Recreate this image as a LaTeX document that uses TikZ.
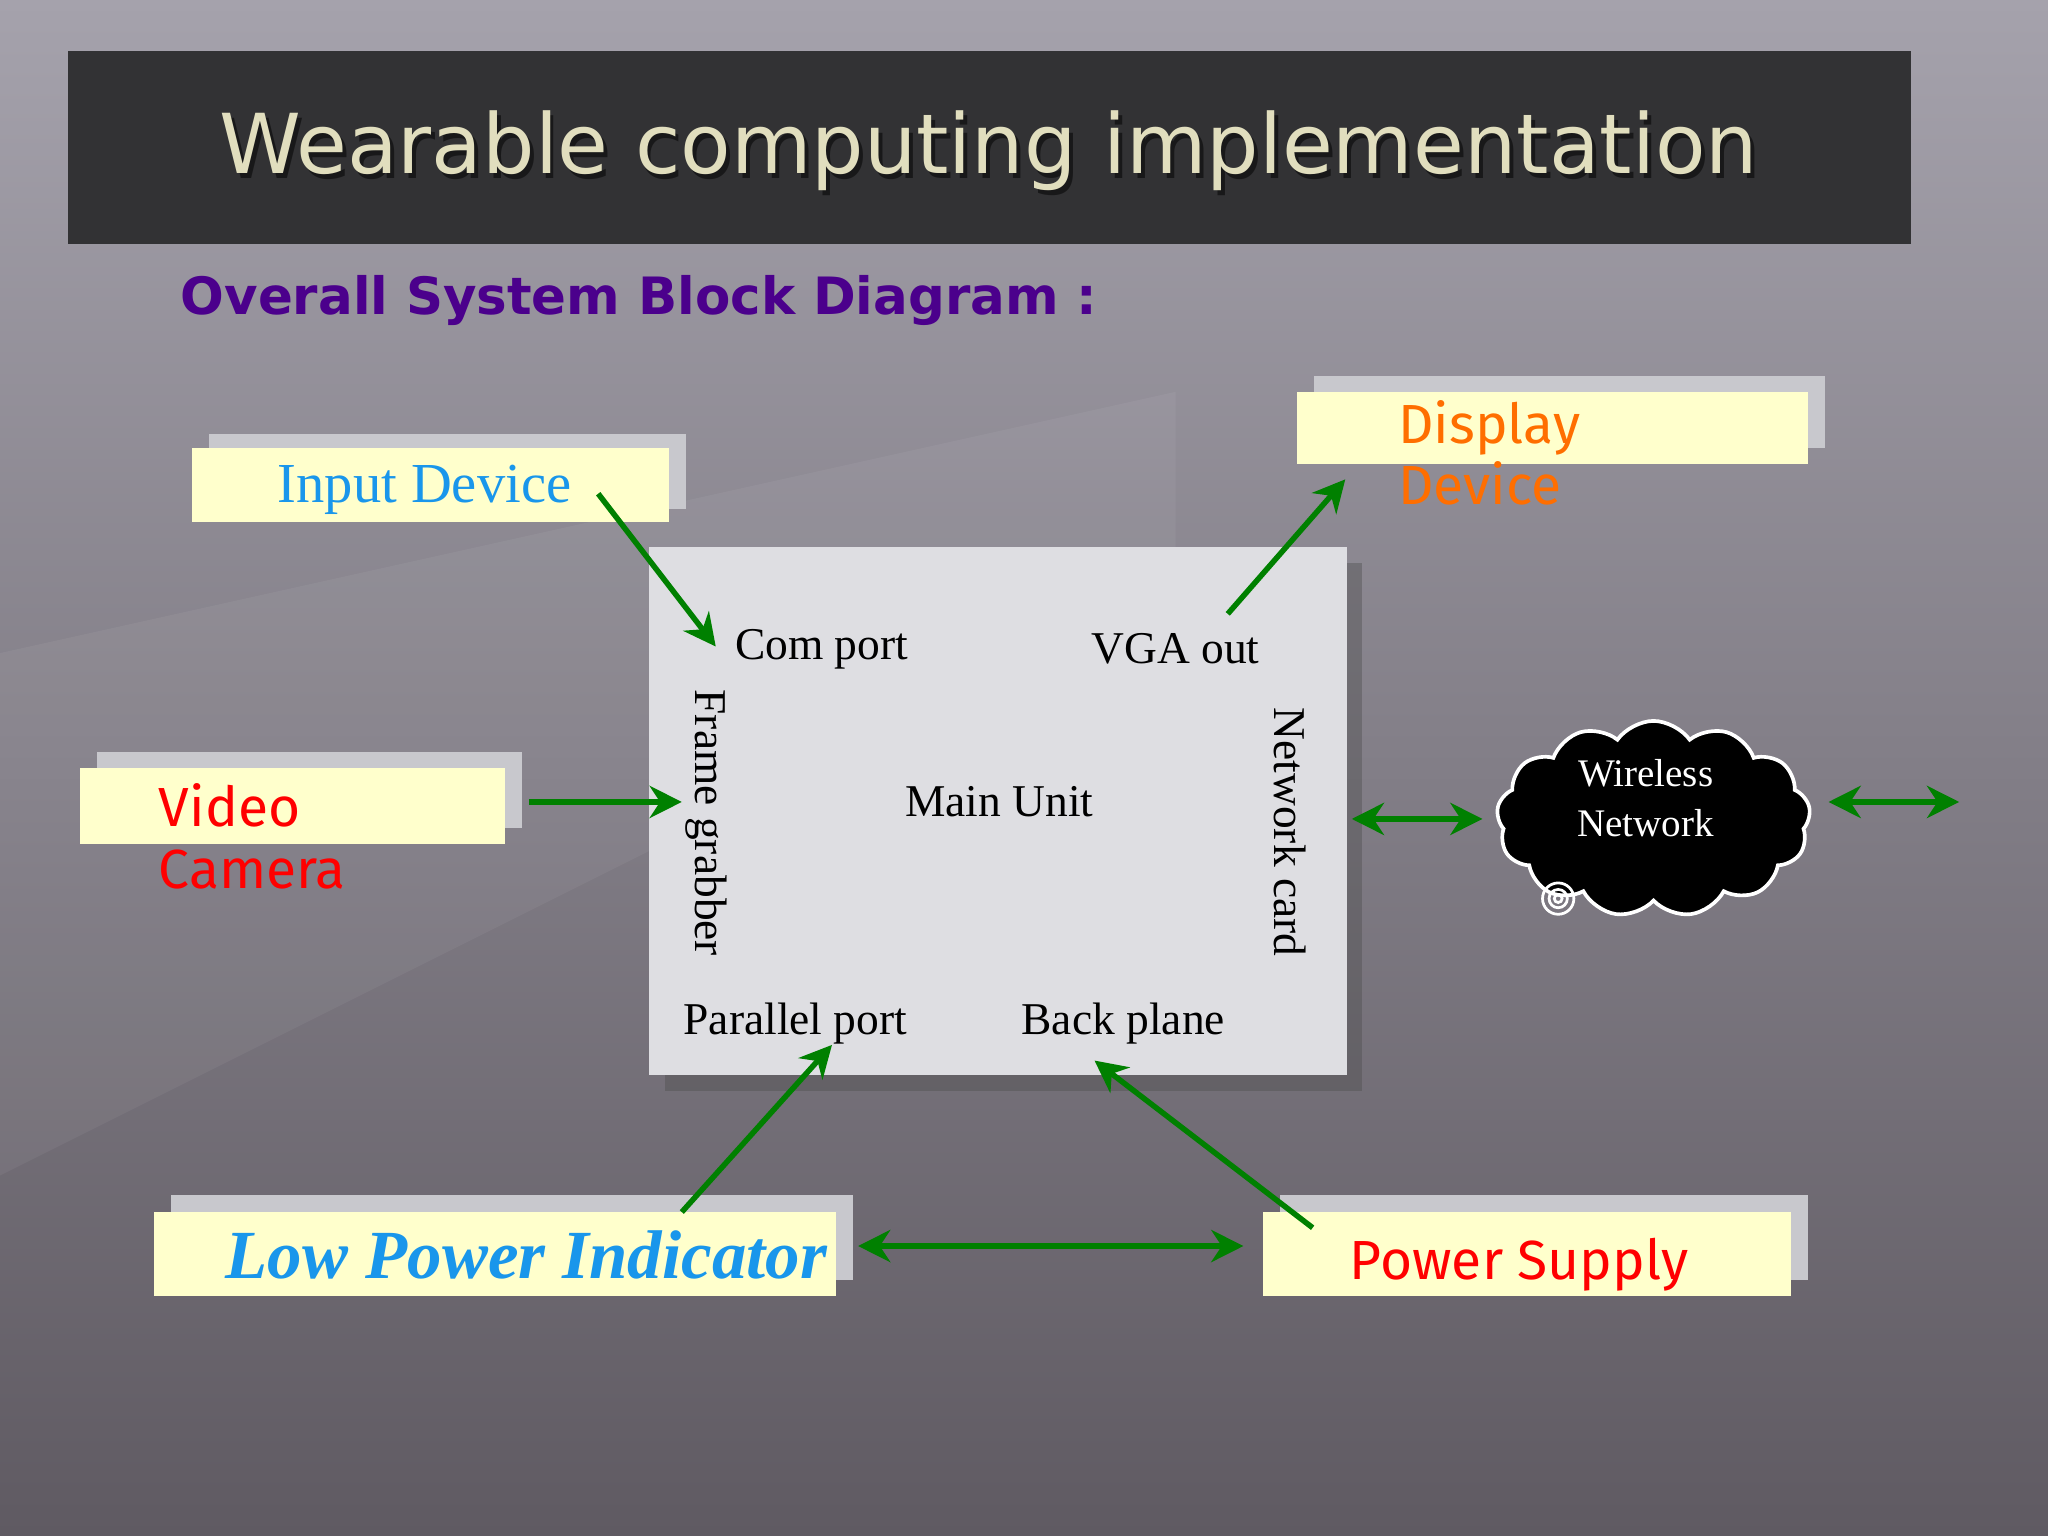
\documentclass[tikz,border=0pt]{standalone}
\usepackage{fontspec}
\setmainfont{TeX Gyre Heros}
\newfontfamily\titlefont{DejaVu Sans}
\newfontfamily\subfont{DejaVu Sans}
\newfontfamily\comicfont{Fira Sans}
\newfontfamily\seriffont{Liberation Serif}
\usetikzlibrary{shapes.symbols,arrows.meta,shadows}
\definecolor{bar}{RGB}{50,50,52}
\definecolor{ylw}{RGB}{255,255,204}
\definecolor{shd}{RGB}{200,200,205}
\definecolor{mainbg}{RGB}{222,222,226}
\definecolor{grn}{RGB}{0,128,0}
\definecolor{cyn}{RGB}{25,150,235}
\definecolor{org}{RGB}{255,110,0}
\definecolor{purp}{RGB}{75,0,140}
\definecolor{ttl}{RGB}{225,222,190}
\begin{document}
\begin{tikzpicture}[x=0.01cm,y=-0.01cm,
  ybox/.style={fill=ylw,draw=none},
  sbox/.style={fill=shd,draw=none},
  arr/.style={draw=grn,line width=1.2pt,-{Stealth[length=7pt,width=7pt]}},
  darr/.style={draw=grn,line width=1.2pt,{Stealth[length=7pt,width=7pt]}-{Stealth[length=7pt,width=7pt]}},
  lbl/.style={font=\seriffont\fontsize{9.9}{12}\selectfont,text=black}]
\useasboundingbox (0,0) rectangle (1568,1176);
\shade[top color={rgb,255:red,165;green,162;blue,172},bottom color={rgb,255:red,95;green,90;blue,98}] (0,0) rectangle (1568,1176);
\fill[white,opacity=0.05] (0,500) -- (900,300) -- (900,450) -- (0,900) -- cycle;
\fill[bar] (52,39) rectangle (1463,187);
\node[font=\titlefont\fontsize{18}{20}\selectfont,text=black,opacity=0.5] at (760,119) {Wearable computing implementation};
\node (title) [font=\titlefont\fontsize{18}{20}\selectfont,text=ttl] at (757,115) {Wearable computing implementation};
\node (sub) [font=\subfont\bfseries\fontsize{11.2}{14}\selectfont,text=purp,anchor=west] at (126,230) {Overall System Block Diagram :};
% shadows
\fill[sbox] (160,332) rectangle (525,390);
\fill[sbox] (1006,288) rectangle (1397,343);
\fill[sbox] (74,576) rectangle (400,634);
\fill[sbox] (131,915) rectangle (653,980);
\fill[sbox] (980,915) rectangle (1384,980);
\fill[gray!60!black,opacity=0.4] (509,431) rectangle (1043,835);
% boxes
\fill[ybox] (147,343) rectangle (512,400);
\node (inp) [font=\seriffont\fontsize{12.3}{15}\selectfont,text=cyn] at (325,375) {Input Device};
\fill[ybox] (993,300) rectangle (1384,355);
\node (disp) [font=\comicfont\fontsize{12}{13.2}\selectfont,text=org,anchor=north west,align=left,inner sep=0] at (1070,306) {Display\\Device};
\fill[ybox] (61,588) rectangle (387,646);
\node (vid) [font=\comicfont\fontsize{12}{13.6}\selectfont,text=red,anchor=north west,align=left,inner sep=0] at (121,599) {Video\\Camera};
\fill[ybox] (118,928) rectangle (640,992);
\node (lpi) [font=\seriffont\bfseries\itshape\fontsize{15}{18}\selectfont,text=cyn] at (403,961) {Low Power Indicator};
\fill[ybox] (967,928) rectangle (1371,992);
\node (ps) [font=\comicfont\fontsize{12}{15}\selectfont,text=red] at (1163,968) {Power Supply};
% main
\fill[mainbg] (497,419) rectangle (1031,823);
\node (com) [lbl] at (629,497) {Com port};
\node (vga) [lbl] at (900,497) {VGA out};
\node (mu) [lbl] at (765,614) {Main Unit};
\node (par) [lbl] at (609,784) {Parallel port};
\node (bp) [lbl] at (860,784) {Back plane};
\node (fg) [lbl,rotate=-90] at (541,630) {Frame grabber};
\node (nc) [lbl,rotate=-90] at (988,637) {Network card};
% cloud
\node (cloud) [cloud,cloud puffs=13,cloud puff arc=110,aspect=1.6,fill=black,draw=white,line width=0.8pt,minimum width=2.4cm,minimum height=1.5cm] at (1266,627) {};
\node (cloudtxt) [text=white,align=center,font=\seriffont\fontsize{8.5}{11}\selectfont] at (1260,611) {Wireless\\Network};
\draw[white,line width=0.6pt] (1193,688) circle (12) (1193,688) circle (7) (1193,688) circle (3);
% arrow endpoints
\coordinate (a1) at (458,378); \coordinate (b1) at (548,495);
\coordinate (a2) at (940,470); \coordinate (b2) at (1030,367);
\coordinate (a3) at (405,614); \coordinate (b3) at (522,614);
\coordinate (a4) at (1035,627); \coordinate (b4) at (1135,627);
\coordinate (a5) at (1400,614); \coordinate (b5) at (1500,614);
\coordinate (a6) at (522,928); \coordinate (b6) at (637,800);
\coordinate (a7) at (1005,940); \coordinate (b7) at (838,812);
\coordinate (a8) at (657,954); \coordinate (b8) at (952,954);
\draw[arr] (a1) -- (b1);
\draw[arr] (a2) -- (b2);
\draw[arr] (a3) -- (b3);
\draw[darr] (a4) -- (b4);
\draw[darr] (a5) -- (b5);
\draw[arr] (a6) -- (b6);
\draw[arr] (a7) -- (b7);
\draw[darr] (a8) -- (b8);
\end{tikzpicture}
\end{document}
